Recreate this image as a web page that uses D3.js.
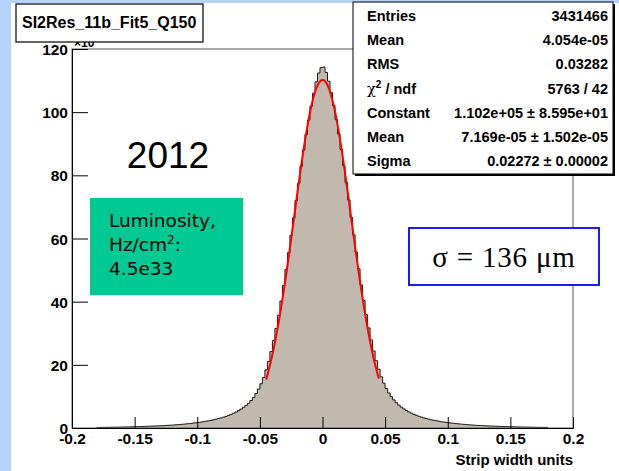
<!DOCTYPE html>
<html>
<head>
<meta charset="utf-8">
<script src="https://cdn.jsdelivr.net/npm/d3@7"></script>
<style>
  body { margin: 0; background: #fff; }
  svg { display: block; }
  text { font-family: "Liberation Sans", Arial, sans-serif; }
</style>
</head>
<body>
<svg id="chart" width="619" height="471"></svg>
<script>
// Strip-residual histogram: fixed-width bins starting at binStart, counts in units of 10^3
const binStart = -0.18;
const binWidth = 0.002;
const counts = [
  0.17,0.18,0.2,0.2,0.22,0.23,0.24,0.26,0.27,0.29,
  0.31,0.33,0.35,0.36,0.39,0.41,0.44,0.46,0.48,0.52,
  0.55,0.57,0.61,0.64,0.68,0.72,0.75,0.8,0.85,0.9,
  0.95,1.01,1.07,1.14,1.21,1.29,1.37,1.46,1.55,1.65,
  1.76,1.87,1.99,2.13,2.27,2.43,2.6,2.78,2.98,3.2,
  3.43,3.68,3.97,4.3,4.66,5.06,5.5,6.0,6.55,7.15,
  7.85,8.7,9.7,10.9,12.3,14.0,16.0,18.4,21.1,24.2,
  27.7,31.5,35.7,40.2,45.1,50.2,55.5,61.0,66.5,72.0,
  77.5,82.9,88.0,92.9,97.5,101.9,106.0,109.6,112.4,114.1,
  114.3,112.6,109.8,106.2,102.1,97.7,93.1,88.2,83.1,77.7,
  72.2,66.7,61.2,55.7,50.4,45.3,40.4,35.9,31.7,27.9,
  24.4,21.3,18.6,16.2,14.2,12.5,11.1,9.9,8.9,8.0,
  7.25,6.6,6.05,5.55,5.1,4.7,4.35,4.02,3.72,3.46,
  3.21,2.99,2.79,2.6,2.44,2.29,2.15,2.01,1.89,1.77,
  1.66,1.56,1.47,1.38,1.3,1.22,1.15,1.08,1.02,0.96,
  0.9,0.85,0.8,0.76,0.72,0.68,0.64,0.61,0.58,0.55,
  0.52,0.49,0.46,0.44,0.41,0.39,0.37,0.35,0.33,0.31,
  0.29,0.28,0.26,0.25,0.23,0.22,0.21,0.2,0.19,0.18
];

// Gaussian fit result (constant in entries) and fitted range
const fitConstant = 1.102e5;
const fitMean = 7.169e-5;
const fitSigma = 0.02272;
const fitRange = [-0.045, 0.045];

// Axes
const xDomain = [-0.2, 0.2];
const yDomain = [0, 120];
const xMajorTicks = [-0.2, -0.15, -0.1, -0.05, 0, 0.05, 0.1, 0.15, 0.2];
const xTickLabels = ["-0.2", "-0.15", "-0.1", "-0.05", "0", "0.05", "0.1", "0.15", "0.2"];
const yMajorTicks = [0, 20, 40, 60, 80, 100, 120];
const yTickLabels = ["0", "20", "40", "60", "80", "100", "120"];
const xTitle = "Strip width units";
const histTitle = "SI2Res_11b_Fit5_Q150";

// Statistics box
const statNames = ["Entries", "Mean", "RMS", "chi2ndf", "Constant", "Mean", "Sigma"];
const statValues = ["3431466", "4.054e-05", "0.03282", "5763 / 42",
  "1.102e+05 \u00b1 8.595e+01", "7.169e-05 \u00b1 1.502e-05", "0.02272 \u00b1 0.00002"];

// Annotations
const yearLabel = "2012";
const lumiLines = ["Luminosity,", "Hz/cm", "4.5e33"];
const sigmaLabel = "\u03c3 = 136 \u03bcm";

const svg = d3.select("#chart");
const W = 619, H = 471;
const frame = { left: 72, right: 573, top: 49, bottom: 428 };

svg.append("rect").attr("width", W).attr("height", H).attr("fill", "#ffffff");
svg.append("rect").attr("x", 0).attr("y", 0).attr("width", 11).attr("height", H).attr("fill", "#b5d3fa");
svg.append("rect").attr("x", 0).attr("y", 0).attr("width", W).attr("height", 3).attr("fill", "#b5d3fa");

const x = d3.scaleLinear().domain(xDomain).range([frame.left, frame.right]);
const y = d3.scaleLinear().domain(yDomain).range([frame.bottom, frame.top]);

// Histogram as a step outline
const pts = [[binStart, 0]];
counts.forEach((v, i) => {
  const lo = binStart + i * binWidth;
  pts.push([lo, v], [lo + binWidth, v]);
});
pts.push([binStart + counts.length * binWidth, 0]);

const line = d3.line().x(d => x(d[0])).y(d => y(d[1]));
svg.append("path").attr("d", line(pts) + "Z").attr("fill", "#c1b8ae").attr("stroke", "none");
svg.append("path").attr("d", line(pts)).attr("fill", "none").attr("stroke", "#1a1a1a").attr("stroke-width", 1);

// Gaussian fit curve
const fitPts = d3.range(0, 201).map(i => {
  const xv = fitRange[0] + (fitRange[1] - fitRange[0]) * i / 200;
  const z = (xv - fitMean) / fitSigma;
  return [xv, fitConstant / 1000 * Math.exp(-0.5 * z * z)];
});
svg.append("path").attr("d", line(fitPts)).attr("fill", "none").attr("stroke", "#ff0000").attr("stroke-width", 2);

// Frame
svg.append("rect").attr("x", frame.left).attr("y", frame.top)
  .attr("width", frame.right - frame.left).attr("height", frame.bottom - frame.top)
  .attr("fill", "none").attr("stroke", "#5a5a5a").attr("stroke-width", 1);

// Axes: major and minor ticks drawn inward
const yMinor = d3.range(0, 121, 4).filter(v => v % 20 !== 0);
const xMinor = d3.range(-20, 21, 1).map(v => v / 100).filter(v => Math.abs(Math.round(v * 100)) % 5 !== 0);

const gy = svg.append("g").attr("transform", `translate(${frame.left},0)`);
gy.call(d3.axisLeft(y).tickValues(yMinor).tickSize(-8).tickFormat(""));
gy.call(d3.axisLeft(y).tickValues(yMajorTicks).tickSize(-16).tickFormat((d, i) => yTickLabels[i]));
gy.selectAll("text").attr("x", -4).attr("dy", "0.36em")
  .style("font-family", "Liberation Sans, Arial, sans-serif").style("font-size", "15.5px").style("font-weight", "bold").attr("fill", "#000");
gy.selectAll("line").attr("stroke", "#000");
gy.selectAll(".domain").attr("stroke", "#000");

const gx = svg.append("g").attr("transform", `translate(0,${frame.bottom})`);
gx.call(d3.axisBottom(x).tickValues(xMinor).tickSize(-6).tickFormat(""));
gx.call(d3.axisBottom(x).tickValues(xMajorTicks).tickSize(-11).tickFormat((d, i) => xTickLabels[i]));
gx.selectAll("text").attr("y", 16).attr("dy", "0")
  .style("font-family", "Liberation Sans, Arial, sans-serif").style("font-size", "15.5px").style("font-weight", "bold").attr("fill", "#000");
gx.selectAll("line").attr("stroke", "#000");
gx.selectAll(".domain").attr("stroke", "#000");

svg.append("text").attr("x", frame.right).attr("y", 465).attr("text-anchor", "end")
  .style("font-size", "15px").style("font-weight", "bold").text(xTitle);

// Exponent marker of the y axis
const expo = svg.append("text").attr("x", 74).attr("y", 47).style("font-size", "12px").style("font-weight", "bold");
expo.append("tspan").text("\u00d710");
expo.append("tspan").attr("dy", -5).style("font-size", "9px").text("3");

// Title box
svg.append("rect").attr("x", 16).attr("y", 4).attr("width", 187).attr("height", 38)
  .attr("fill", "#fff").attr("stroke", "#000").attr("stroke-width", 1.2);
svg.append("text").attr("x", 22).attr("y", 28).style("font-size", "16px").style("font-weight", "bold").text(histTitle);

// Statistics box
const sb = { x: 353, y: 2, w: 260, h: 172 };
svg.append("rect").attr("x", sb.x + 2).attr("y", sb.y + 2).attr("width", sb.w).attr("height", sb.h).attr("fill", "#000");
svg.append("rect").attr("x", sb.x).attr("y", sb.y).attr("width", sb.w).attr("height", sb.h)
  .attr("fill", "#fff").attr("stroke", "#000").attr("stroke-width", 1);
statNames.forEach((name, i) => {
  const yy = 21 + i * 24.2;
  const t = svg.append("text").attr("x", sb.x + 14).attr("y", yy).style("font-size", "14.5px").style("font-weight", "bold");
  if (name === "chi2ndf") {
    t.append("tspan").style("font-family", "DejaVu Serif, serif").style("font-weight", "normal").text("\u03c7");
    t.append("tspan").attr("dy", -6).style("font-size", "10px").text("2");
    t.append("tspan").attr("dy", 6).text(" / ndf");
  } else {
    t.text(name);
  }
  svg.append("text").attr("x", sb.x + sb.w - 5).attr("y", yy).attr("text-anchor", "end")
    .style("font-size", "14.5px").style("font-weight", "bold").text(statValues[i]);
});

// Year label
svg.append("text").attr("x", 168).attr("y", 168).attr("text-anchor", "middle")
  .style("font-size", "37px").text(yearLabel);

// Luminosity box
svg.append("rect").attr("x", 90).attr("y", 198).attr("width", 153).attr("height", 97).attr("fill", "#00c994");
const lumi = svg.append("g").attr("fill", "#000");
lumi.append("text").attr("x", 109).attr("y", 227).style("font-family", "DejaVu Sans, sans-serif").style("font-size", "18.5px").text(lumiLines[0]);
const l2 = lumi.append("text").attr("x", 109).attr("y", 251).style("font-family", "DejaVu Sans, sans-serif").style("font-size", "18.5px");
l2.append("tspan").text(lumiLines[1]);
l2.append("tspan").attr("dy", -7).style("font-size", "12px").text("2");
l2.append("tspan").attr("dy", 7).text(":");
lumi.append("text").attr("x", 109).attr("y", 275).style("font-family", "DejaVu Sans, sans-serif").style("font-size", "18.5px").text(lumiLines[2]);

// Resolution box
svg.append("rect").attr("x", 409).attr("y", 228).attr("width", 190).attr("height", 57)
  .attr("fill", "#fff").attr("stroke", "#1a1aff").attr("stroke-width", 2);
svg.append("text").attr("x", 504).attr("y", 267).attr("text-anchor", "middle")
  .style("font-family", "Liberation Serif, Times New Roman, serif").style("font-size", "29px")
  .style("letter-spacing", "0.8px").text(sigmaLabel);
</script>
</body>
</html>
